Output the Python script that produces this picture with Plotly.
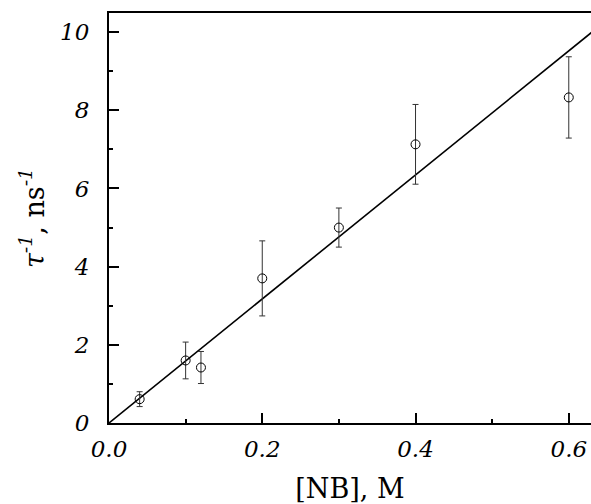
import plotly.graph_objects as go

# Data
nb_conc = [0.04, 0.10, 0.12, 0.20, 0.30, 0.40, 0.60]
inv_tau = [0.61, 1.60, 1.42, 3.70, 5.00, 7.13, 8.33]
inv_tau_err = [0.19, 0.47, 0.41, 0.96, 0.50, 1.02, 1.04]

fit_slope = 15.87
fit_x = [0.0, 0.63]
fit_y = [fit_slope * v for v in fit_x]

x_ticks = [0.0, 0.2, 0.4, 0.6]
x_ticklabels = ["0.0", "0.2", "0.4", "0.6"]
y_ticks = [0, 2, 4, 6, 8, 10]
y_ticklabels = ["0", "2", "4", "6", "8", "10"]

fig = go.Figure()
fig.add_trace(go.Scatter(
    x=fit_x, y=fit_y, mode="lines",
    line=dict(color="black", width=1.6),
    showlegend=False, hoverinfo="skip",
))
fig.add_trace(go.Scatter(
    x=nb_conc, y=inv_tau, mode="markers",
    marker=dict(symbol="circle-open", size=9, color="black", line=dict(width=1)),
    error_y=dict(type="data", array=inv_tau_err, visible=True,
                 color="#333", thickness=1, width=3),
    showlegend=False,
))

tickfont = dict(family="DejaVu Serif", size=23, color="black", style="italic")

fig.update_layout(
    width=591, height=504,
    margin=dict(l=109, r=0, t=13, b=81),
    paper_bgcolor="white", plot_bgcolor="white",
    xaxis=dict(
        range=[0, 0.629], automargin=False,
        tickmode="array", tickvals=x_ticks, ticktext=x_ticklabels,
        ticks="inside", ticklen=10, tickwidth=1.5, tickcolor="black",
        minor=dict(ticks="inside", ticklen=4, tickwidth=1.5, dtick=0.1, tickcolor="black", showgrid=False),
        showline=True, linecolor="black", linewidth=2, mirror=True,
        showgrid=False, zeroline=False,
        tickfont=tickfont, ticklabelstandoff=4,
        title=dict(text="[NB], M", font=dict(family="DejaVu Serif", size=27, color="black"), standoff=20),
    ),
    yaxis=dict(
        range=[0, 10.49], automargin=False,
        tickmode="array", tickvals=y_ticks, ticktext=y_ticklabels,
        ticks="inside", ticklen=10, tickwidth=1.5, tickcolor="black",
        minor=dict(ticks="inside", ticklen=4, tickwidth=1.5, dtick=1, tickcolor="black", showgrid=False),
        showline=True, linecolor="black", linewidth=2,
        showgrid=False, zeroline=False,
        tickfont=tickfont, ticklabelstandoff=13,
        title=dict(text="<i>τ</i><sup><i>-1</i></sup>, ns<sup><i>-1</i></sup>",
                   font=dict(family="DejaVu Serif", size=27, color="black"), standoff=8),
    ),
)

# remove the default page margin so the figure fills the window exactly
fig.write_html("out.html",
               config={"displayModeBar": False},
               post_script="document.body.style.margin='0';document.body.style.overflow='hidden';")
